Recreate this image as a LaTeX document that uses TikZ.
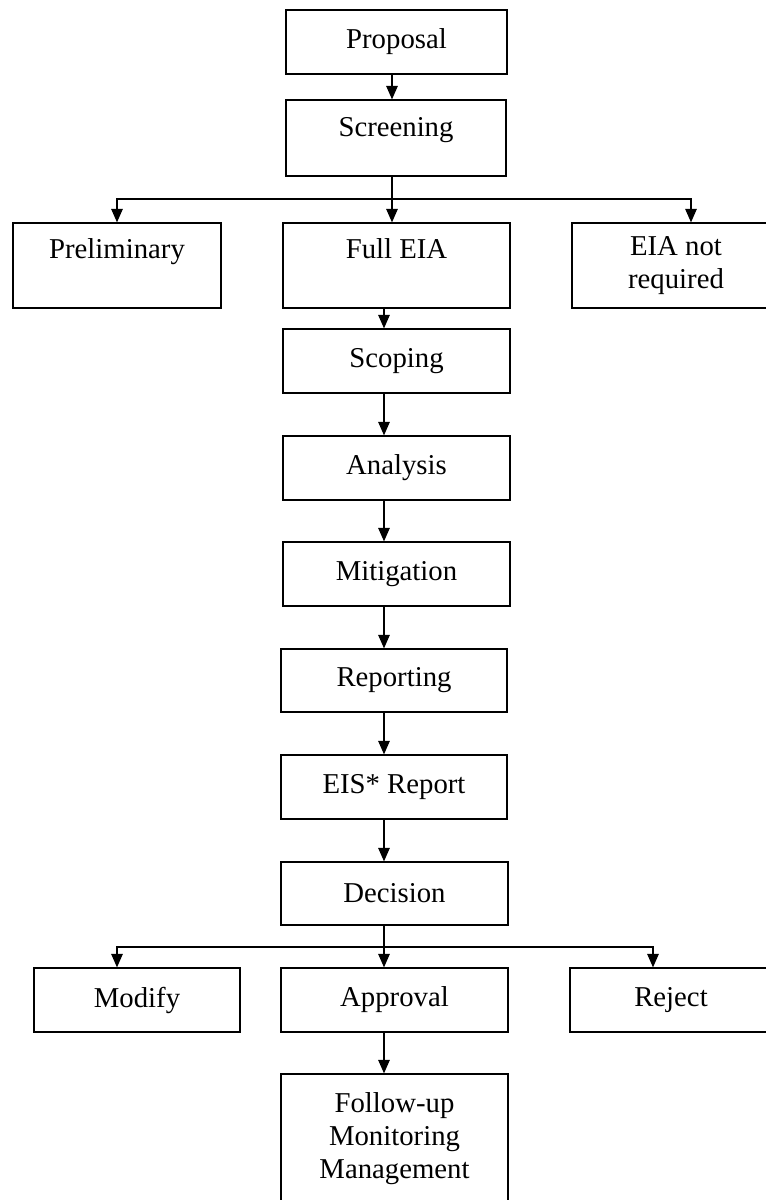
\documentclass[tikz,border=0pt]{standalone}
\usepackage{fontspec}
\setmainfont{Liberation Serif}
\usetikzlibrary{arrows.meta}

\begin{document}
\begin{tikzpicture}[x=0.4pt, y=-0.4pt,
    box/.style={draw=black, line width=0.5pt, align=center, inner sep=0pt,
      font=\fontsize{11.5}{13.2}\selectfont},
    sz/.style 2 args={minimum width=#1*0.4pt, minimum height=#2*0.4pt},
    arr/.style={draw=black, line width=0.5pt, -{Triangle[length=5.4pt, width=4.6pt]}}]
    \useasboundingbox (0,0) rectangle (766,1200);
    \clip (0,0) rectangle (766,1200);
    % spines of the arrows
    \coordinate (topspine) at (392,0);
    \coordinate (spine) at (384,0);
    \coordinate (split1) at (392,199);
    \coordinate (noteiadrop) at (691,199);
    \coordinate (split2) at (384,947);
    \coordinate (modifydrop) at (117,947);
    \coordinate (rejectdrop) at (653,947);
    % boxes
    \node[box, sz={221}{64}] (proposal) at (396.5,42) {Proposal};
    \node[box, sz={220}{76}] (screening) at (396,138) {Screening\\[-4pt]~};
    \node[box, sz={208}{85}] (prelim) at (117,265.5) {Preliminary\\~};
    \node[box, sz={227}{85}] (fulleia) at (396.5,265.5) {Full EIA\\~};
    \node[box, sz={208}{85}] (noteia) at (676,265.5) {EIA not\\required};
    \node[box, sz={227}{64}] (scoping) at (396.5,361) {Scoping};
    \node[box, sz={227}{64}] (analysis) at (396.5,468) {Analysis};
    \node[box, sz={227}{64}] (mitigation) at (396.5,574) {Mitigation};
    \node[box, sz={226}{63}] (reporting) at (394,680.5) {Reporting};
    \node[box, sz={226}{64}] (eis) at (394,787) {EIS* Report};
    \node[box, sz={227}{63}] (decision) at (394.5,893.5) {Decision};
    \node[box, sz={206}{64}] (modify) at (137,1000) {Modify};
    \node[box, sz={227}{64}] (approval) at (394.5,1000) {Approval};
    \node[box, sz={202}{64}] (reject) at (671,1000) {Reject};
    \node[box, sz={227}{130}] (followup) at (394.5,1139) {Follow-up\\Monitoring\\Management};
    % connectors
    \draw[arr] (proposal.south -| topspine) -- (screening.north -| topspine);
    \draw[arr] (screening.south -| topspine) -- (fulleia.north -| topspine);
    \draw[arr] (split1) -| (prelim.north);
    \draw[arr] (split1) -- (noteiadrop) -- (noteia.north -| noteiadrop);
    \foreach \a/\b in {fulleia/scoping, scoping/analysis, analysis/mitigation,
        mitigation/reporting, reporting/eis, eis/decision, decision/approval,
        approval/followup}
      \draw[arr] (\a.south -| spine) -- (\b.north -| spine);
    \draw[arr] (split2) -- (modifydrop) -- (modify.north -| modifydrop);
    \draw[arr] (split2) -- (rejectdrop) -- (reject.north -| rejectdrop);
\end{tikzpicture}
\end{document}
